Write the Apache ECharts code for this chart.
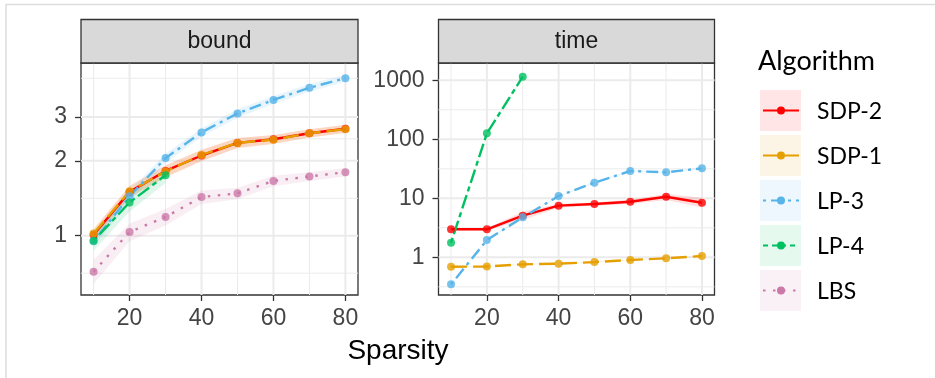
<!DOCTYPE html>
<html>
<head>
<meta charset="utf-8">
<script src="https://cdn.jsdelivr.net/npm/echarts@6/dist/echarts.min.js"></script>
<style>
  html, body { margin: 0; background: #fff; }
  #chart { width: 935px; height: 378px; }
</style>
</head>
<body>
<div id="chart"></div>
<script>
// Two facets (bound / time) of the same Sparsity sweep, log y on both.
const sparsity = [10, 20, 30, 40, 50, 60, 70, 80];
const algorithms = ['SDP-2', 'SDP-1', 'LP-3', 'LP-4', 'LBS'];
const colors = ['#FF0000', '#E69F00', '#56B4E9', '#00C060', '#CC79A7'];
const dashes = ['solid', [16, 6], [3, 5, 12, 5], [5, 4, 14, 4], [2.5, 7.5]];

const xTicks = [20, 40, 60, 80];
const xMinor = [10, 30, 50, 70];
const boundTicks = [1, 2, 3];
const boundMinor = [0.707, 1.414, 2.449, 4.29];
const timeTicks = [1, 10, 100, 1000];
const timeMinor = [0.316, 3.16, 31.6, 316];

// per algorithm, in the order of `algorithms`
const boundMean = [
  [1.01, 1.50, 1.82, 2.10, 2.36, 2.44, 2.58, 2.69],
  [1.02, 1.51, 1.81, 2.11, 2.36, 2.43, 2.58, 2.68],
  [0.95, 1.44, 2.05, 2.60, 3.10, 3.51, 3.93, 4.29],
  [0.955, 1.36, 1.75],
  [0.717, 1.035, 1.19, 1.43, 1.48, 1.66, 1.73, 1.80],
];
const boundLo = [
  [0.96, 1.42, 1.72, 1.99, 2.25, 2.34, 2.48, 2.59],
  [0.97, 1.43, 1.71, 2.00, 2.25, 2.33, 2.48, 2.58],
  [0.90, 1.37, 1.96, 2.50, 2.98, 3.38, 3.79, 4.15],
  [0.87, 1.25, 1.63],
  [0.64, 0.95, 1.10, 1.34, 1.40, 1.58, 1.66, 1.73],
];
const boundHi = [
  [1.06, 1.58, 1.92, 2.21, 2.47, 2.54, 2.68, 2.79],
  [1.07, 1.59, 1.91, 2.22, 2.47, 2.53, 2.68, 2.78],
  [1.00, 1.51, 2.14, 2.70, 3.22, 3.64, 4.07, 4.43],
  [1.04, 1.47, 1.87],
  [0.80, 1.12, 1.28, 1.52, 1.56, 1.74, 1.80, 1.87],
];
const timeMean = [
  [2.98, 2.98, 5.07, 7.5, 8.0, 8.75, 10.6, 8.42],
  [0.69, 0.70, 0.76, 0.78, 0.83, 0.90, 0.96, 1.05],
  [0.348, 1.96, 4.76, 10.9, 18.4, 29.0, 27.6, 32.2],
  [1.77, 126, 1151],
  null,
];
const timeLo = [
  [2.85, 2.85, 4.3, 6.9, 7.5, 8.0, 9.4, 7.0],
  [0.68, 0.69, 0.745, 0.765, 0.815, 0.885, 0.945, 1.03],
  [0.338, 1.90, 4.62, 10.6, 17.9, 28.2, 26.8, 31.3],
  [1.72, 122, 1118],
  null,
];
const timeHi = [
  [3.1, 3.1, 5.9, 8.1, 8.5, 9.5, 11.8, 10.2],
  [0.70, 0.71, 0.775, 0.795, 0.845, 0.915, 0.975, 1.07],
  [0.358, 2.02, 4.90, 11.2, 18.9, 29.8, 28.4, 33.1],
  [1.82, 130, 1185],
  null,
];

const panels = ['bound', 'time'];
const panelTicks = [boundTicks, timeTicks];
const panelMinor = [boundMinor, timeMinor];
const panelMean = [boundMean, timeMean];
const panelLo = [boundLo, timeLo];
const panelHi = [boundHi, timeHi];
const yRange = [[0.578, 4.94], [0.2297, 1963]];

const AXIS_TEXT = '#444444';
const BORDER = '#333333';
const GRIDLINE = '#EBEBEB';
const FONT = '"Liberation Sans", Arial, sans-serif';
const LEGEND_FONT = 'Lato, "Noto Sans", sans-serif';

const grids = [
  { left: 81, top: 63, width: 277, height: 232 },
  { left: 438.5, top: 63, width: 276, height: 232 },
];

function tint(hex, a) {
  const n = parseInt(hex.slice(1), 16);
  return `rgba(${n >> 16},${(n >> 8) & 255},${n & 255},${a})`;
}

const series = [];
panels.forEach((_, p) => {
  // panel grid lines, major and minor, placed through the axes
  series.push({
    type: 'custom', xAxisIndex: p, yAxisIndex: p, z: 0, silent: true, animation: false,
    data: [[sparsity[0], panelTicks[p][0]]],
    renderItem: (params, api) => {
      const cs = params.coordSys;
      const kids = [];
      const hline = (v, w) => {
        const y = api.coord([sparsity[0], v])[1];
        kids.push({ type: 'line', shape: { x1: cs.x, y1: y, x2: cs.x + cs.width, y2: y }, style: { stroke: GRIDLINE, lineWidth: w } });
      };
      const vline = (v, w) => {
        const x = api.coord([v, panelTicks[p][0]])[0];
        kids.push({ type: 'line', shape: { x1: x, y1: cs.y, x2: x, y2: cs.y + cs.height }, style: { stroke: GRIDLINE, lineWidth: w } });
      };
      panelMinor[p].forEach(v => hline(v, 1));
      xMinor.forEach(v => vline(v, 1));
      panelTicks[p].forEach(v => hline(v, 2));
      xTicks.forEach(v => vline(v, 2));
      return { type: 'group', children: kids };
    },
  });

  // ribbons
  algorithms.forEach((name, i) => {
    const m = panelMean[p][i];
    if (!m) return;
    const lo = panelLo[p][i], hi = panelHi[p][i];
    series.push({
      type: 'custom', xAxisIndex: p, yAxisIndex: p, z: 1, silent: true, animation: false, clip: true,
      data: [[sparsity[0], m[0]]],
      renderItem: (params, api) => {
        const pts = [];
        for (let j = 0; j < m.length; j++) pts.push(api.coord([sparsity[j], hi[j]]));
        for (let j = m.length - 1; j >= 0; j--) pts.push(api.coord([sparsity[j], lo[j]]));
        return { type: 'polygon', shape: { points: pts }, style: { fill: tint(colors[i], 0.13) } };
      },
    });
  });

  // lines
  algorithms.forEach((name, i) => {
    const m = panelMean[p][i];
    if (!m) return;
    series.push({
      name, type: 'line', xAxisIndex: p, yAxisIndex: p, z: 3, silent: true, animation: false,
      data: m.map((v, j) => [sparsity[j], v]),
      showSymbol: false,
      lineStyle: { color: colors[i], width: 2.4, type: dashes[i], cap: 'butt' },
    });
  });

  // points
  algorithms.forEach((name, i) => {
    const m = panelMean[p][i];
    if (!m) return;
    series.push({
      name, type: 'scatter', xAxisIndex: p, yAxisIndex: p, z: 4, silent: true, animation: false,
      data: m.map((v, j) => [sparsity[j], v]),
      symbolSize: 8,
      itemStyle: { color: colors[i] },
    });
  });
});

const xAxis = grids.map((g, p) => ({
  gridIndex: p, type: 'value', min: 6.5, max: 83.5,
  splitLine: { show: false },
  axisLine: { show: false },
  axisTick: { show: true, length: 6, customValues: xTicks, lineStyle: { color: BORDER, width: 1.3 } },
  axisLabel: { customValues: xTicks, color: AXIS_TEXT, fontSize: 23, fontFamily: FONT, margin: 12 },
}));

const yAxis = grids.map((g, p) => ({
  gridIndex: p, type: 'log', logBase: 10, min: yRange[p][0], max: yRange[p][1],
  splitLine: { show: false },
  axisLine: { show: false },
  axisTick: { show: true, length: 6, customValues: panelTicks[p], lineStyle: { color: BORDER, width: 1.3 } },
  axisLabel: {
    customValues: panelTicks[p], color: AXIS_TEXT, fontSize: 23, fontFamily: FONT, margin: 14,
    formatter: v => String(Math.round(v)),
  },
}));

const graphic = [
  // outer frame of the figure (top and left edges only)
  { type: 'polyline', silent: true, shape: { points: [[6, 378], [6, 4.5], [935, 4.5]] }, style: { fill: null, stroke: '#DDDDDD', lineWidth: 1.5 } },
  { type: 'text', silent: true, style: { x: 398, y: 351, text: 'Sparsity', font: `28px ${FONT}`, fill: '#000', textAlign: 'center', verticalAlign: 'middle' } },
  { type: 'text', silent: true, style: { x: 758, y: 61, text: 'Algorithm', font: `27px ${LEGEND_FONT}`, fill: '#000', textAlign: 'left', verticalAlign: 'middle' } },
];
grids.forEach((g, p) => {
  graphic.push({ type: 'rect', silent: true, z: 10, shape: { x: g.left, y: 19.5, width: g.width, height: g.top - 19.5 }, style: { fill: '#D9D9D9', stroke: BORDER, lineWidth: 1.3 } });
  graphic.push({ type: 'text', silent: true, z: 11, style: { x: g.left + g.width / 2, y: 42, text: panels[p], font: `23px ${FONT}`, fill: '#1A1A1A', textAlign: 'center', verticalAlign: 'middle' } });
});
algorithms.forEach((name, i) => {
  const top = 90 + 45 * i, cy = top + 20.5;
  graphic.push({ type: 'rect', silent: true, shape: { x: 760, y: top, width: 41, height: 41 }, style: { fill: tint(colors[i], 0.1) } });
  graphic.push({ type: 'line', silent: true, shape: { x1: 763, y1: cy, x2: 799, y2: cy }, style: { stroke: colors[i], lineWidth: 2.2, lineDash: dashes[i] === 'solid' ? null : dashes[i] } });
  graphic.push({ type: 'circle', silent: true, shape: { cx: 781, cy, r: 4 }, style: { fill: colors[i] } });
  graphic.push({ type: 'text', silent: true, style: { x: 817, y: cy + 1, text: name, font: `23px ${LEGEND_FONT}`, fill: '#000', textAlign: 'left', verticalAlign: 'middle' } });
});

const chart = echarts.init(document.getElementById('chart'));
chart.setOption({
  animation: false,
  backgroundColor: '#fff',
  grid: grids.map(g => ({ ...g, show: true, backgroundColor: '#fff', borderColor: BORDER, borderWidth: 1.3, containLabel: false })),
  xAxis,
  yAxis,
  series,
  graphic,
});
</script>
</body>
</html>
